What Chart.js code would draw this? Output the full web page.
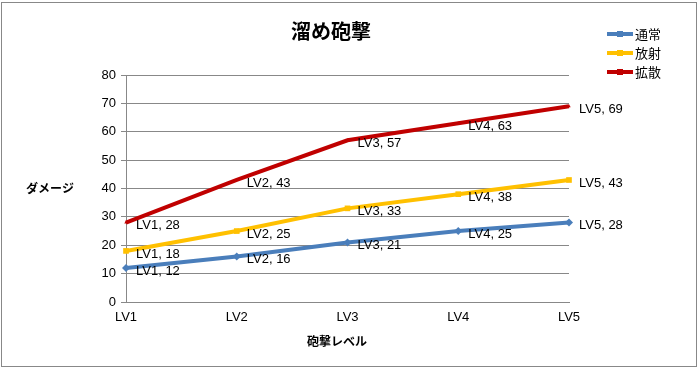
<!DOCTYPE html>
<html>
<head>
<meta charset="utf-8">
<script src="https://cdn.jsdelivr.net/npm/chart.js@4"></script>
<style>
  html, body { margin: 0; padding: 0; background: #fff; }
  #wrap { position: relative; width: 698px; height: 368px; }
</style>
</head>
<body>
<div id="wrap"><canvas id="chart" width="698" height="368"></canvas></div>
<script>
// ======================================
// DATA
// ======================================
const levels = ['LV1', 'LV2', 'LV3', 'LV4', 'LV5'];
const seriesNames = ['通常', '放射', '拡散'];
const normalValues = [12, 16, 21, 25, 28];
const radialValues = [18, 25, 33, 38, 43];
const spreadValues = [28, 43, 57, 63, 69];
const yTicks = [0, 10, 20, 30, 40, 50, 60, 70, 80];

const chartTitle = '溜め砲撃';
const yTitle = 'ダメージ';
const xTitle = '砲撃レベル';

const COLORS = ['#4a7ebb', '#ffc000', '#c00000'];
const MARKERS = ['rectRot', 'rect', 'triangle'];
const FONT = '"Liberation Sans", "Noto Sans CJK JP", sans-serif';
const JP_FONT = '"Noto Sans CJK JP", sans-serif';

// ======================================
// PLUGINS
// ======================================
// Frame, title, axis titles, legend and point labels
const decorPlugin = {
    id: 'decor',
    afterDatasetsDraw(chart) {
        const ctx = chart.ctx;
        ctx.save();

        // data labels "LV1, 12"
        ctx.font = '13px ' + FONT;
        ctx.fillStyle = '#000';
        ctx.textAlign = 'left';
        ctx.textBaseline = 'middle';
        chart.data.datasets.forEach((ds, i) => {
            const meta = chart.getDatasetMeta(i);
            meta.data.forEach((pt, j) => {
                ctx.fillText(levels[j] + ', ' + ds.data[j], pt.x + 10, pt.y + 3);
            });
        });

        // title
        ctx.font = 'bold 20px ' + JP_FONT;
        ctx.textAlign = 'center';
        ctx.fillText(chartTitle, 331, 31);

        // axis titles
        ctx.font = 'bold 12px ' + JP_FONT;
        ctx.fillText(yTitle, 50, 188);
        ctx.fillText(xTitle, 337, 341);

        // legend
        ctx.textAlign = 'left';
        ctx.font = '13px ' + JP_FONT;
        seriesNames.forEach((name, i) => {
            const y = 34 + i * 19;
            ctx.strokeStyle = COLORS[i];
            ctx.lineWidth = 4;
            ctx.beginPath();
            ctx.moveTo(607, y);
            ctx.lineTo(633, y);
            ctx.stroke();
            ctx.fillStyle = COLORS[i];
            ctx.fillRect(617, y - 3, 6, 6);
            ctx.fillStyle = '#000';
            ctx.fillText(name, 635, y);
        });

        // outer frame
        ctx.strokeStyle = '#888';
        ctx.lineWidth = 1;
        ctx.strokeRect(1.5, 2.5, 695, 364);
        ctx.restore();
    }
};

// ======================================
// CHART
// ======================================
document.addEventListener('DOMContentLoaded', function() {
    const values = [normalValues, radialValues, spreadValues];
    const datasets = seriesNames.map((name, i) => ({
        label: name,
        data: values[i],
        borderColor: COLORS[i],
        backgroundColor: COLORS[i],
        borderWidth: 4,
        pointStyle: MARKERS[i],
        pointRadius: i === 2 ? 2 : 4,
        pointBorderWidth: 0,
        tension: 0
    }));

    new Chart(document.getElementById('chart'), {
        type: 'line',
        data: { labels: levels, datasets },
        options: {
            responsive: false,
            animation: false,
            layout: { padding: { top: 75, right: 129, bottom: 0, left: 0 } },
            scales: {
                x: {
                    offset: false,
                    afterFit: s => { s.height = 66; },
                    grid: { display: false, drawTicks: true, tickLength: 5, tickColor: '#888' },
                    border: { color: '#888' },
                    ticks: { color: '#000', font: { family: FONT, size: 13 }, padding: 3, maxRotation: 0 }
                },
                y: {
                    min: 0, max: 80,
                    afterFit: s => { s.width = 126; },
                    afterBuildTicks: s => { s.ticks = yTicks.map(v => ({ value: v })); },
                    grid: { color: '#888', tickLength: 5, tickColor: '#888' },
                    border: { color: '#888' },
                    ticks: { color: '#000', font: { family: FONT, size: 13 }, padding: 5 }
                }
            },
            plugins: {
                legend: { display: false },
                title: { display: false },
                tooltip: { enabled: false }
            }
        },
        plugins: [decorPlugin]
    });
});
</script>
</body>
</html>
